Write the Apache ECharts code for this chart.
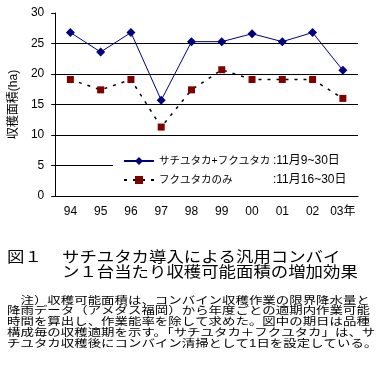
<!DOCTYPE html>
<html><head><meta charset="utf-8">
<script src="https://cdn.jsdelivr.net/npm/echarts@6/dist/echarts.min.js"></script>
<style>html,body{margin:0;padding:0;background:#fff}#c{width:376px;height:374px}</style>
</head><body><div id="c"></div>
<script>
const years = ['94','95','96','97','98','99','00','01','02','03年'];
const sachiFuku = [26.8, 23.6, 26.8, 15.7, 25.3, 25.3, 26.6, 25.3, 26.8, 20.6];
const fukuOnly = [19.1, 17.4, 19.1, 11.3, 17.4, 20.7, 19.1, 19.1, 19.1, 16.0];
const yTicks = {min: 0, max: 30, interval: 5};
const seriesNames = ['サチユタカ+フクユタカ', 'フクユタカのみ'];
const seriesPeriods = [':11月9~30日', ':11月16~30日'];
const yName = '収穫面積(ha)';
const titleFig = '図１';
const titleLines = ['サチユタカ導入による汎用コンバイ', 'ン１台当たり収穫可能面積の増加効果'];
const noteLines = [
  '　注）収穫可能面積は、コンバイン収穫作業の限界降水量と',
  '降雨データ（アメダス福岡）から年度ごとの適期内作業可能',
  '時間を算出し、作業能率を除して求めた。図中の期日は品種',
  '構成毎の収穫適期を示す。「サチユタカ＋フクユタカ」は、サ',
  'チユタカ収穫後にコンバイン清掃として1日を設定している。'
];
const FF = '"Liberation Sans", "Noto Sans CJK JP", sans-serif';
const chart = echarts.init(document.getElementById('c'), null, {renderer: 'canvas'});
const graphics = [
  {type: 'text', x: 7, y: 250, scaleX: 1.16, style: {text: titleFig, fontSize: 15, fontFamily: FF, fill: '#000'}},
];
titleLines.forEach((t, i) => graphics.push({type: 'text', x: 62, y: 250 + i * 15.5, scaleX: 1.16,
  style: {text: t, fontSize: 15, fontFamily: FF, fill: '#000'}}));
noteLines.forEach((t, i) => graphics.push({type: 'text', x: 7, y: 295.5 + i * 10.8, scaleX: 1.12, scaleY: 0.88,
  style: {text: t, fontSize: 12, fontFamily: FF, fill: '#000'}}));
chart.setOption({
  animation: false,
  backgroundColor: '#fff',
  grid: {left: 50, right: 18, top: 13, bottom: 178},
  xAxis: {
    type: 'category', data: years, boundaryGap: true,
    axisLine: {lineStyle: {color: '#000', width: 1}},
    axisTick: {inside: true, length: 4, interval: 0, lineStyle: {color: '#000'}},
    axisLabel: {color: '#000', fontSize: 12, fontFamily: FF, margin: 10, interval: 0}
  },
  yAxis: {
    type: 'value', min: yTicks.min, max: yTicks.max, interval: yTicks.interval,
    name: yName, nameLocation: 'middle', nameGap: 27, nameRotate: 90,
    nameTextStyle: {color: '#000', fontSize: 12, fontFamily: FF},
    axisLine: {show: true, lineStyle: {color: '#000', width: 1}},
    axisTick: {show: true, length: 4, lineStyle: {color: '#000'}},
    axisLabel: {color: '#000', fontSize: 12, fontFamily: FF, margin: 11},
    splitLine: {show: true, lineStyle: {color: ['#000','#000','#000','#000','#000','#000','rgba(0,0,0,0)'], width: 1}}
  },
  legend: {
    orient: 'vertical', left: 113, top: 151, itemWidth: 30, itemHeight: 10, itemGap: 7,
    backgroundColor: '#fff', padding: [4, 14, 4, 10],
    formatter: function (name) {
      const i = seriesNames.indexOf(name);
      return '{a|' + name + '}{b|' + seriesPeriods[i] + '}';
    },
    textStyle: {color: '#000', fontSize: 12, fontFamily: FF,
      rich: {a: {width: 114, fontSize: 10.5, fontFamily: FF}, b: {fontSize: 12, fontFamily: FF}}},
    data: seriesNames
  },
  series: [
    {name: seriesNames[0], type: 'line', data: sachiFuku, symbol: 'diamond', symbolSize: 9,
      lineStyle: {color: '#000080', width: 1}, itemStyle: {color: '#000080'}, z: 3},
    {name: seriesNames[1], type: 'line', data: fukuOnly, symbol: 'rect', symbolSize: 7,
      lineStyle: {color: '#000', width: 1.5, type: [3, 6]}, itemStyle: {color: '#800000'}, z: 2}
  ],
  graphic: graphics
});
</script></body></html>
